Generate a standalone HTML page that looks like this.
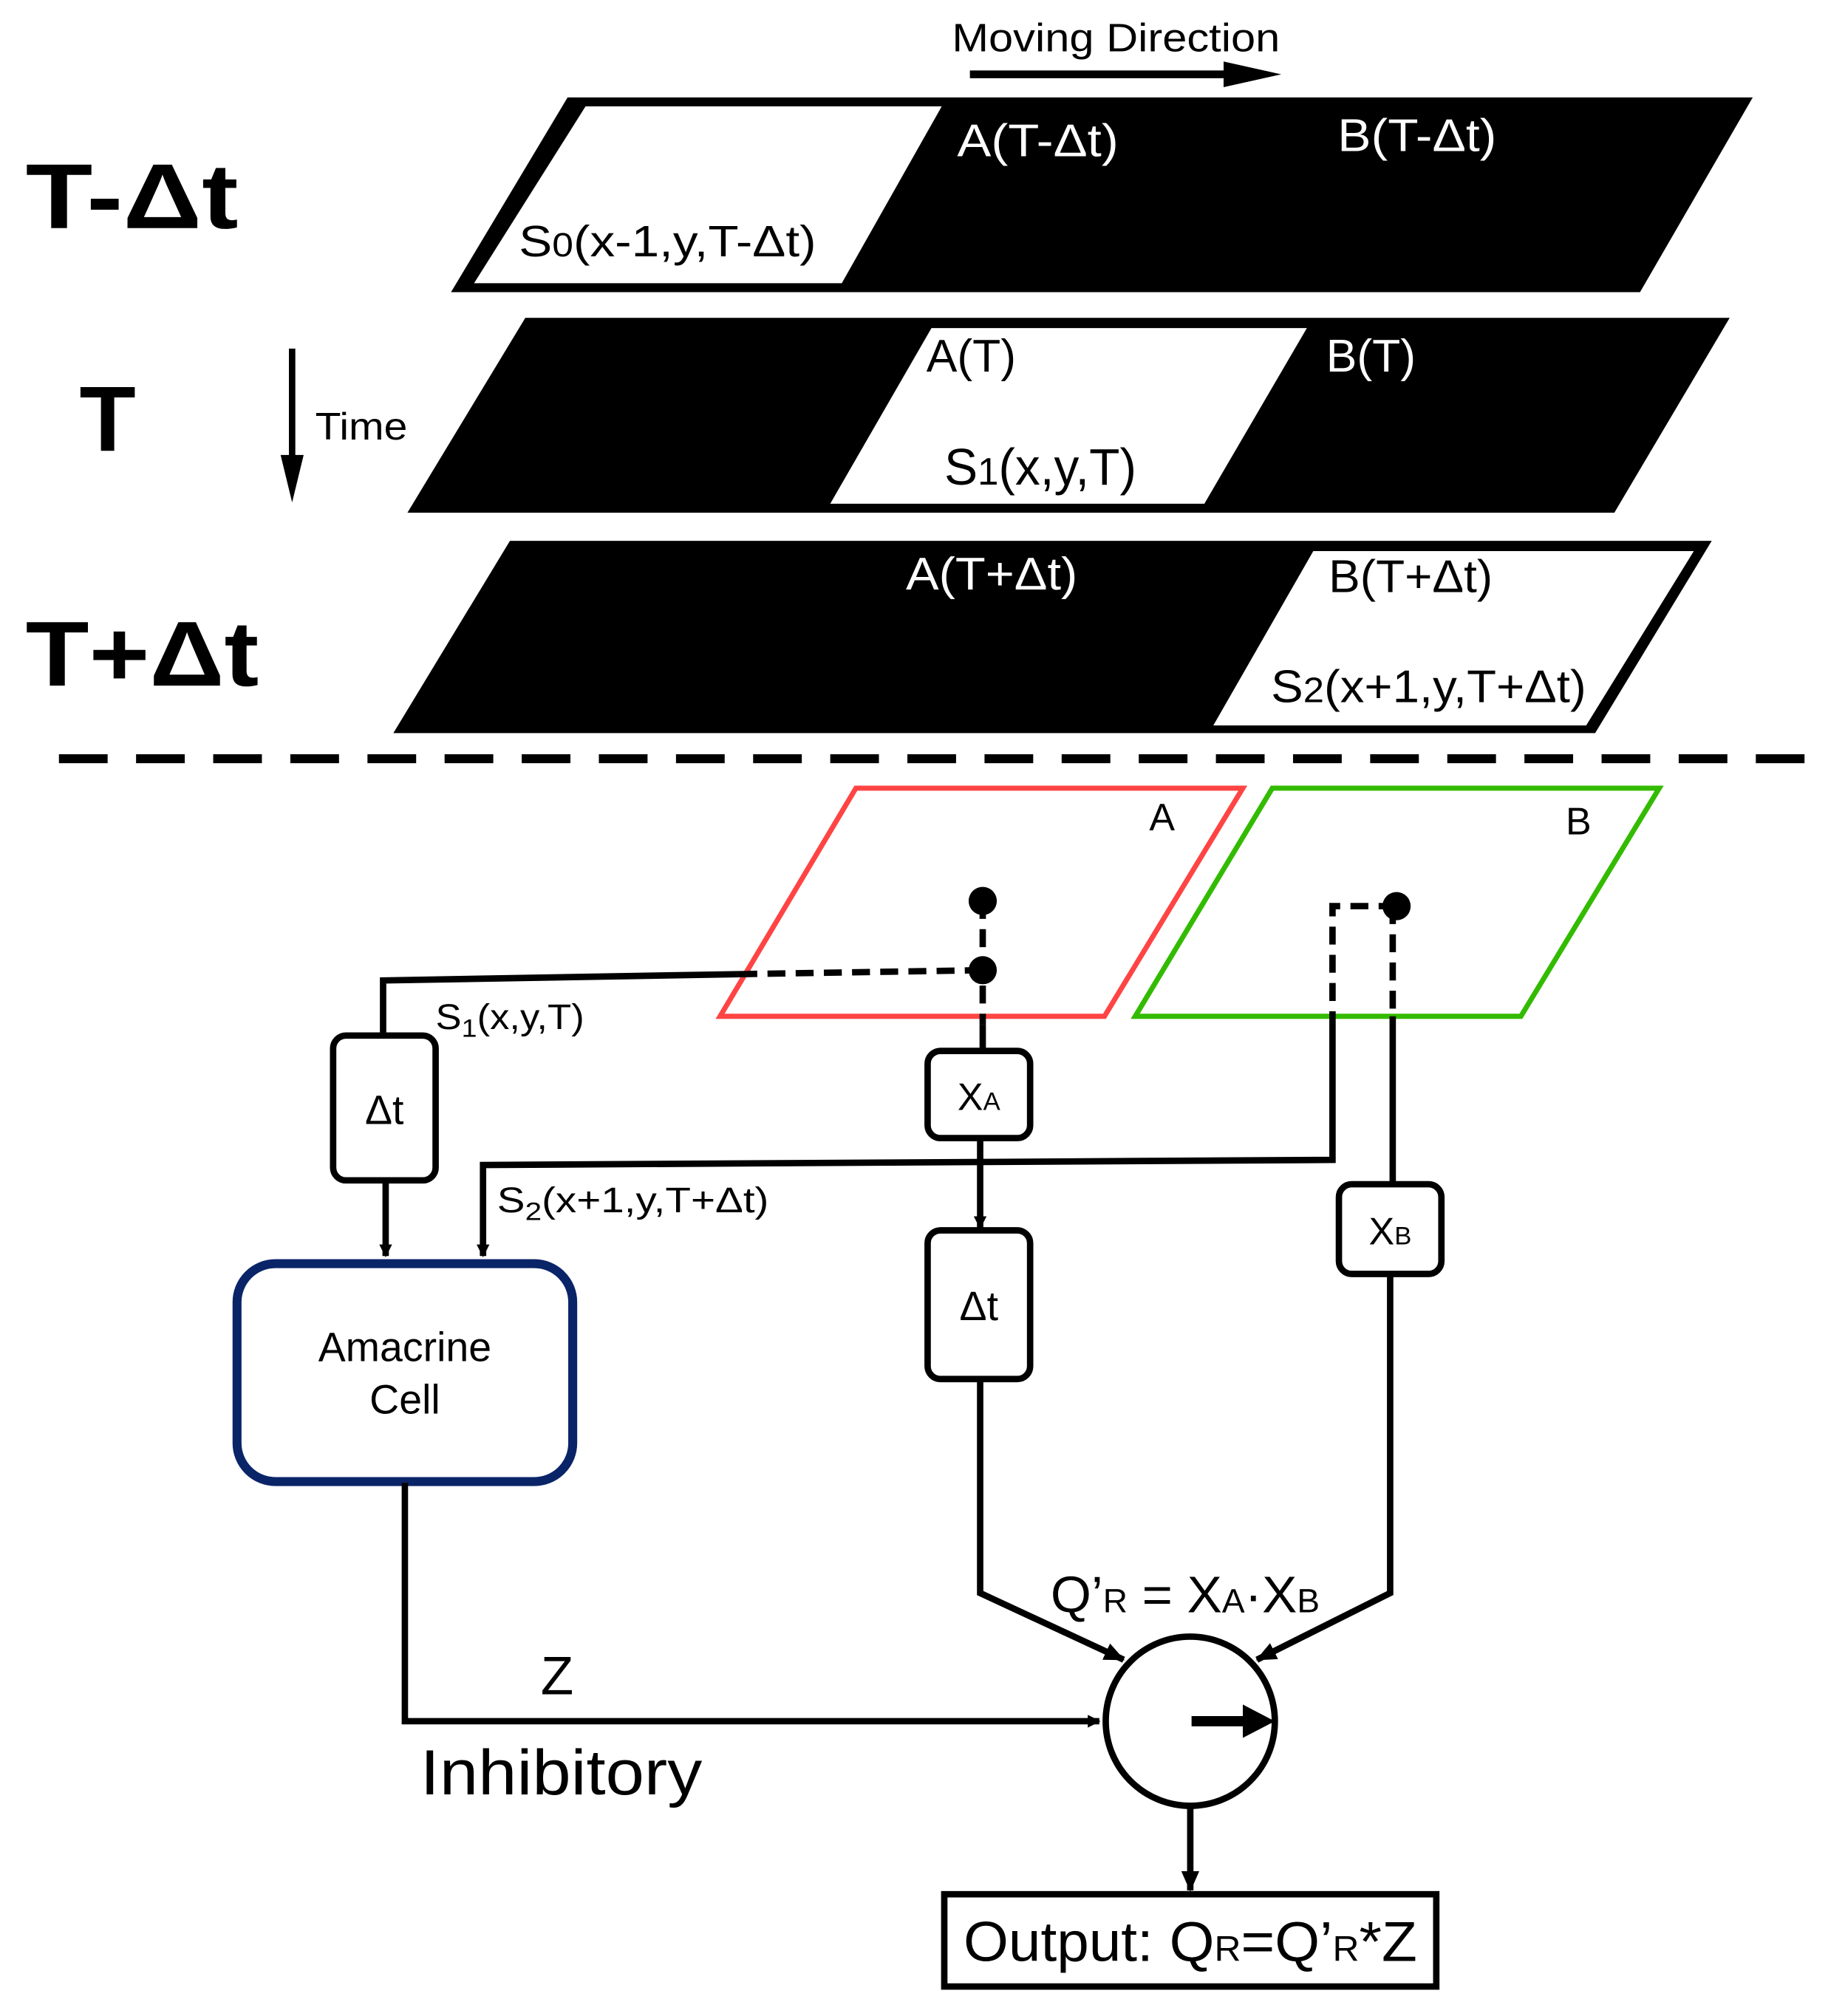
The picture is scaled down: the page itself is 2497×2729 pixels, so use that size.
<!DOCTYPE html>
<html><head><meta charset="utf-8"><style>html,body{margin:0;padding:0;background:#fff}svg{display:block}text{font-family:"Liberation Sans","DejaVu Sans",sans-serif}</style></head>
<body>
<svg width="2497" height="2729" viewBox="0 0 1440 1573" preserveAspectRatio="none" xmlns="http://www.w3.org/2000/svg">
<defs>
<marker id="ah" markerWidth="10" markerHeight="10" refX="9" refY="5" orient="auto" markerUnits="userSpaceOnUse" viewBox="0 0 10 10"><path d="M0,0 L10,5 L0,10 z" fill="#000"/></marker>
<marker id="ah2" markerWidth="16" markerHeight="16" refX="15" refY="8" orient="auto" markerUnits="userSpaceOnUse" viewBox="0 0 16 16"><path d="M0,1 L16,8 L0,15 z" fill="#000"/></marker>
</defs>
<text x="743" y="40" font-size="31" textLength="256" lengthAdjust="spacingAndGlyphs">Moving Direction</text>
<line x1="757" y1="58" x2="978" y2="58" stroke="#000" stroke-width="6"/>
<path d="M955,48 L1000,58 L955,68 z" fill="#000"/>
<text x="20" y="178" font-size="72" font-weight="bold" textLength="166" lengthAdjust="spacingAndGlyphs">T-Δt</text>
<text x="62" y="352" font-size="72" font-weight="bold">T</text>
<text x="20" y="535" font-size="72" font-weight="bold" textLength="182" lengthAdjust="spacingAndGlyphs">T+Δt</text>
<line x1="228" y1="272" x2="228" y2="360" stroke="#000" stroke-width="5"/>
<path d="M219,355 L228,392 L237,355 z" fill="#000"/>
<text x="246" y="343" font-size="30" textLength="72" lengthAdjust="spacingAndGlyphs">Time</text>
<polygon points="443,76 1368,76 1280,228 352,228" fill="#000"/>
<polygon points="457,83 735,83 657,221 370,221" fill="#fff"/>
<text x="747" y="122" font-size="36" fill="#fff" textLength="126" lengthAdjust="spacingAndGlyphs">A(T-Δt)</text>
<text x="1044" y="118" font-size="36" fill="#fff" textLength="124" lengthAdjust="spacingAndGlyphs">B(T-Δt)</text>
<text x="405" y="200" font-size="34" textLength="232" lengthAdjust="spacingAndGlyphs">S<tspan font-size="26">0</tspan>(x-1,y,T-Δt)</text>
<polygon points="410,248 1350,248 1260,400 318,400" fill="#000"/>
<polygon points="727,256 1020,256 940,393 648,393" fill="#fff"/>
<text x="723" y="290" font-size="36">A(T)</text>
<text x="1035" y="290" font-size="36" fill="#fff">B(T)</text>
<text x="737" y="378" font-size="40" textLength="150" lengthAdjust="spacingAndGlyphs">S<tspan font-size="30">1</tspan>(x,y,T)</text>
<polygon points="398,422 1336,422 1245,572 307,572" fill="#000"/>
<polygon points="1025,430 1322,430 1238,566 947,566" fill="#fff"/>
<text x="707" y="460" font-size="36" fill="#fff" textLength="134" lengthAdjust="spacingAndGlyphs">A(T+Δt)</text>
<text x="1037" y="462" font-size="36" textLength="128" lengthAdjust="spacingAndGlyphs">B(T+Δt)</text>
<text x="992" y="548" font-size="36" textLength="246" lengthAdjust="spacingAndGlyphs">S<tspan font-size="28">2</tspan>(x+1,y,T+Δt)</text>
<line x1="46" y1="592" x2="1420" y2="592" stroke="#000" stroke-width="7" stroke-dasharray="38 22.2"/>
<polygon points="668,615 970,615 862,793 562,793" fill="none" stroke="#f44" stroke-width="4"/>
<polygon points="993,615 1295,615 1187,793 886,793" fill="none" stroke="#3b0" stroke-width="4"/>
<text x="897" y="648" font-size="30">A</text>
<text x="1222" y="651" font-size="30">B</text>
<line x1="767" y1="703" x2="767" y2="800" stroke="#000" stroke-width="5" stroke-dasharray="14 8"/>
<line x1="767" y1="800" x2="767" y2="820" stroke="#000" stroke-width="5"/>
<line x1="767" y1="757" x2="582" y2="760" stroke="#000" stroke-width="5" stroke-dasharray="14 8"/>
<polyline points="582,760 299,765 299,808" fill="none" stroke="#000" stroke-width="5"/>
<circle cx="767" cy="703" r="11"/>
<circle cx="767" cy="757" r="11"/>
<polyline points="1090,707 1040,707 1040,793" fill="none" stroke="#000" stroke-width="5" stroke-dasharray="14 8"/>
<line x1="1087" y1="707" x2="1087" y2="793" stroke="#000" stroke-width="5" stroke-dasharray="14 8"/>
<circle cx="1090" cy="707" r="11"/>
<polyline points="1040,793 1040,905 377,909 377,980" fill="none" stroke="#000" stroke-width="5" marker-end="url(#ah)"/>
<line x1="1087" y1="793" x2="1087" y2="924" stroke="#000" stroke-width="5"/>
<rect x="260" y="808" width="80" height="113" rx="10" fill="#fff" stroke="#000" stroke-width="5"/>
<text x="300" y="877" font-size="32" text-anchor="middle">Δt</text>
<line x1="301" y1="921" x2="301" y2="980" stroke="#000" stroke-width="5" marker-end="url(#ah)"/>
<rect x="724" y="820" width="80" height="68" rx="10" fill="#fff" stroke="#000" stroke-width="5"/>
<text x="764" y="866" font-size="30" text-anchor="middle">X<tspan font-size="20">A</tspan></text>
<line x1="765" y1="888" x2="765" y2="958" stroke="#000" stroke-width="5" marker-end="url(#ah)"/>
<rect x="724" y="960" width="80" height="116" rx="10" fill="#fff" stroke="#000" stroke-width="5"/>
<text x="764" y="1030" font-size="32" text-anchor="middle">Δt</text>
<rect x="1045" y="924" width="80" height="70" rx="10" fill="#fff" stroke="#000" stroke-width="5"/>
<text x="1085" y="971" font-size="30" text-anchor="middle">X<tspan font-size="20">B</tspan></text>
<text x="340" y="803" font-size="28" textLength="116" lengthAdjust="spacingAndGlyphs">S<tspan font-size="20" dy="6">1</tspan><tspan dy="-6">(x,y,T)</tspan></text>
<text x="388" y="946" font-size="28" textLength="212" lengthAdjust="spacingAndGlyphs">S<tspan font-size="20" dy="6">2</tspan><tspan dy="-6">(x+1,y,T+Δt)</tspan></text>
<rect x="185" y="986" width="262" height="170" rx="30" fill="#fff" stroke="#0a2468" stroke-width="7"/>
<text x="316" y="1062" font-size="32" text-anchor="middle">Amacrine</text>
<text x="316" y="1103" font-size="32" text-anchor="middle">Cell</text>
<polyline points="316,1157 316,1343 858,1343" fill="none" stroke="#000" stroke-width="5" marker-end="url(#ah)"/>
<text x="422" y="1322" font-size="42">Z</text>
<text x="328" y="1400" font-size="50" textLength="220" lengthAdjust="spacingAndGlyphs">Inhibitory</text>
<polyline points="765,1076 765,1243 877,1295" fill="none" stroke="#000" stroke-width="5" marker-end="url(#ah2)"/>
<polyline points="1085,994 1085,1243 981,1295" fill="none" stroke="#000" stroke-width="5" marker-end="url(#ah2)"/>
<text x="820" y="1258" font-size="40" textLength="210" lengthAdjust="spacingAndGlyphs">Q’<tspan font-size="26">R</tspan> = X<tspan font-size="26">A</tspan>·X<tspan font-size="26">B</tspan></text>
<circle cx="929" cy="1343" r="66" fill="#fff" stroke="#000" stroke-width="5"/>
<line x1="930" y1="1343" x2="975" y2="1343" stroke="#000" stroke-width="8"/>
<path d="M970,1330 L995,1343 L970,1356 z" fill="#000"/>
<line x1="929" y1="1409" x2="929" y2="1475" stroke="#000" stroke-width="5" marker-end="url(#ah2)"/>
<rect x="737" y="1478" width="384" height="72" fill="#fff" stroke="#000" stroke-width="5"/>
<text x="752" y="1530" font-size="44" textLength="354" lengthAdjust="spacingAndGlyphs">Output: Q<tspan font-size="28">R</tspan>=Q’<tspan font-size="28">R</tspan>*Z</text>
</svg>
</body></html>
